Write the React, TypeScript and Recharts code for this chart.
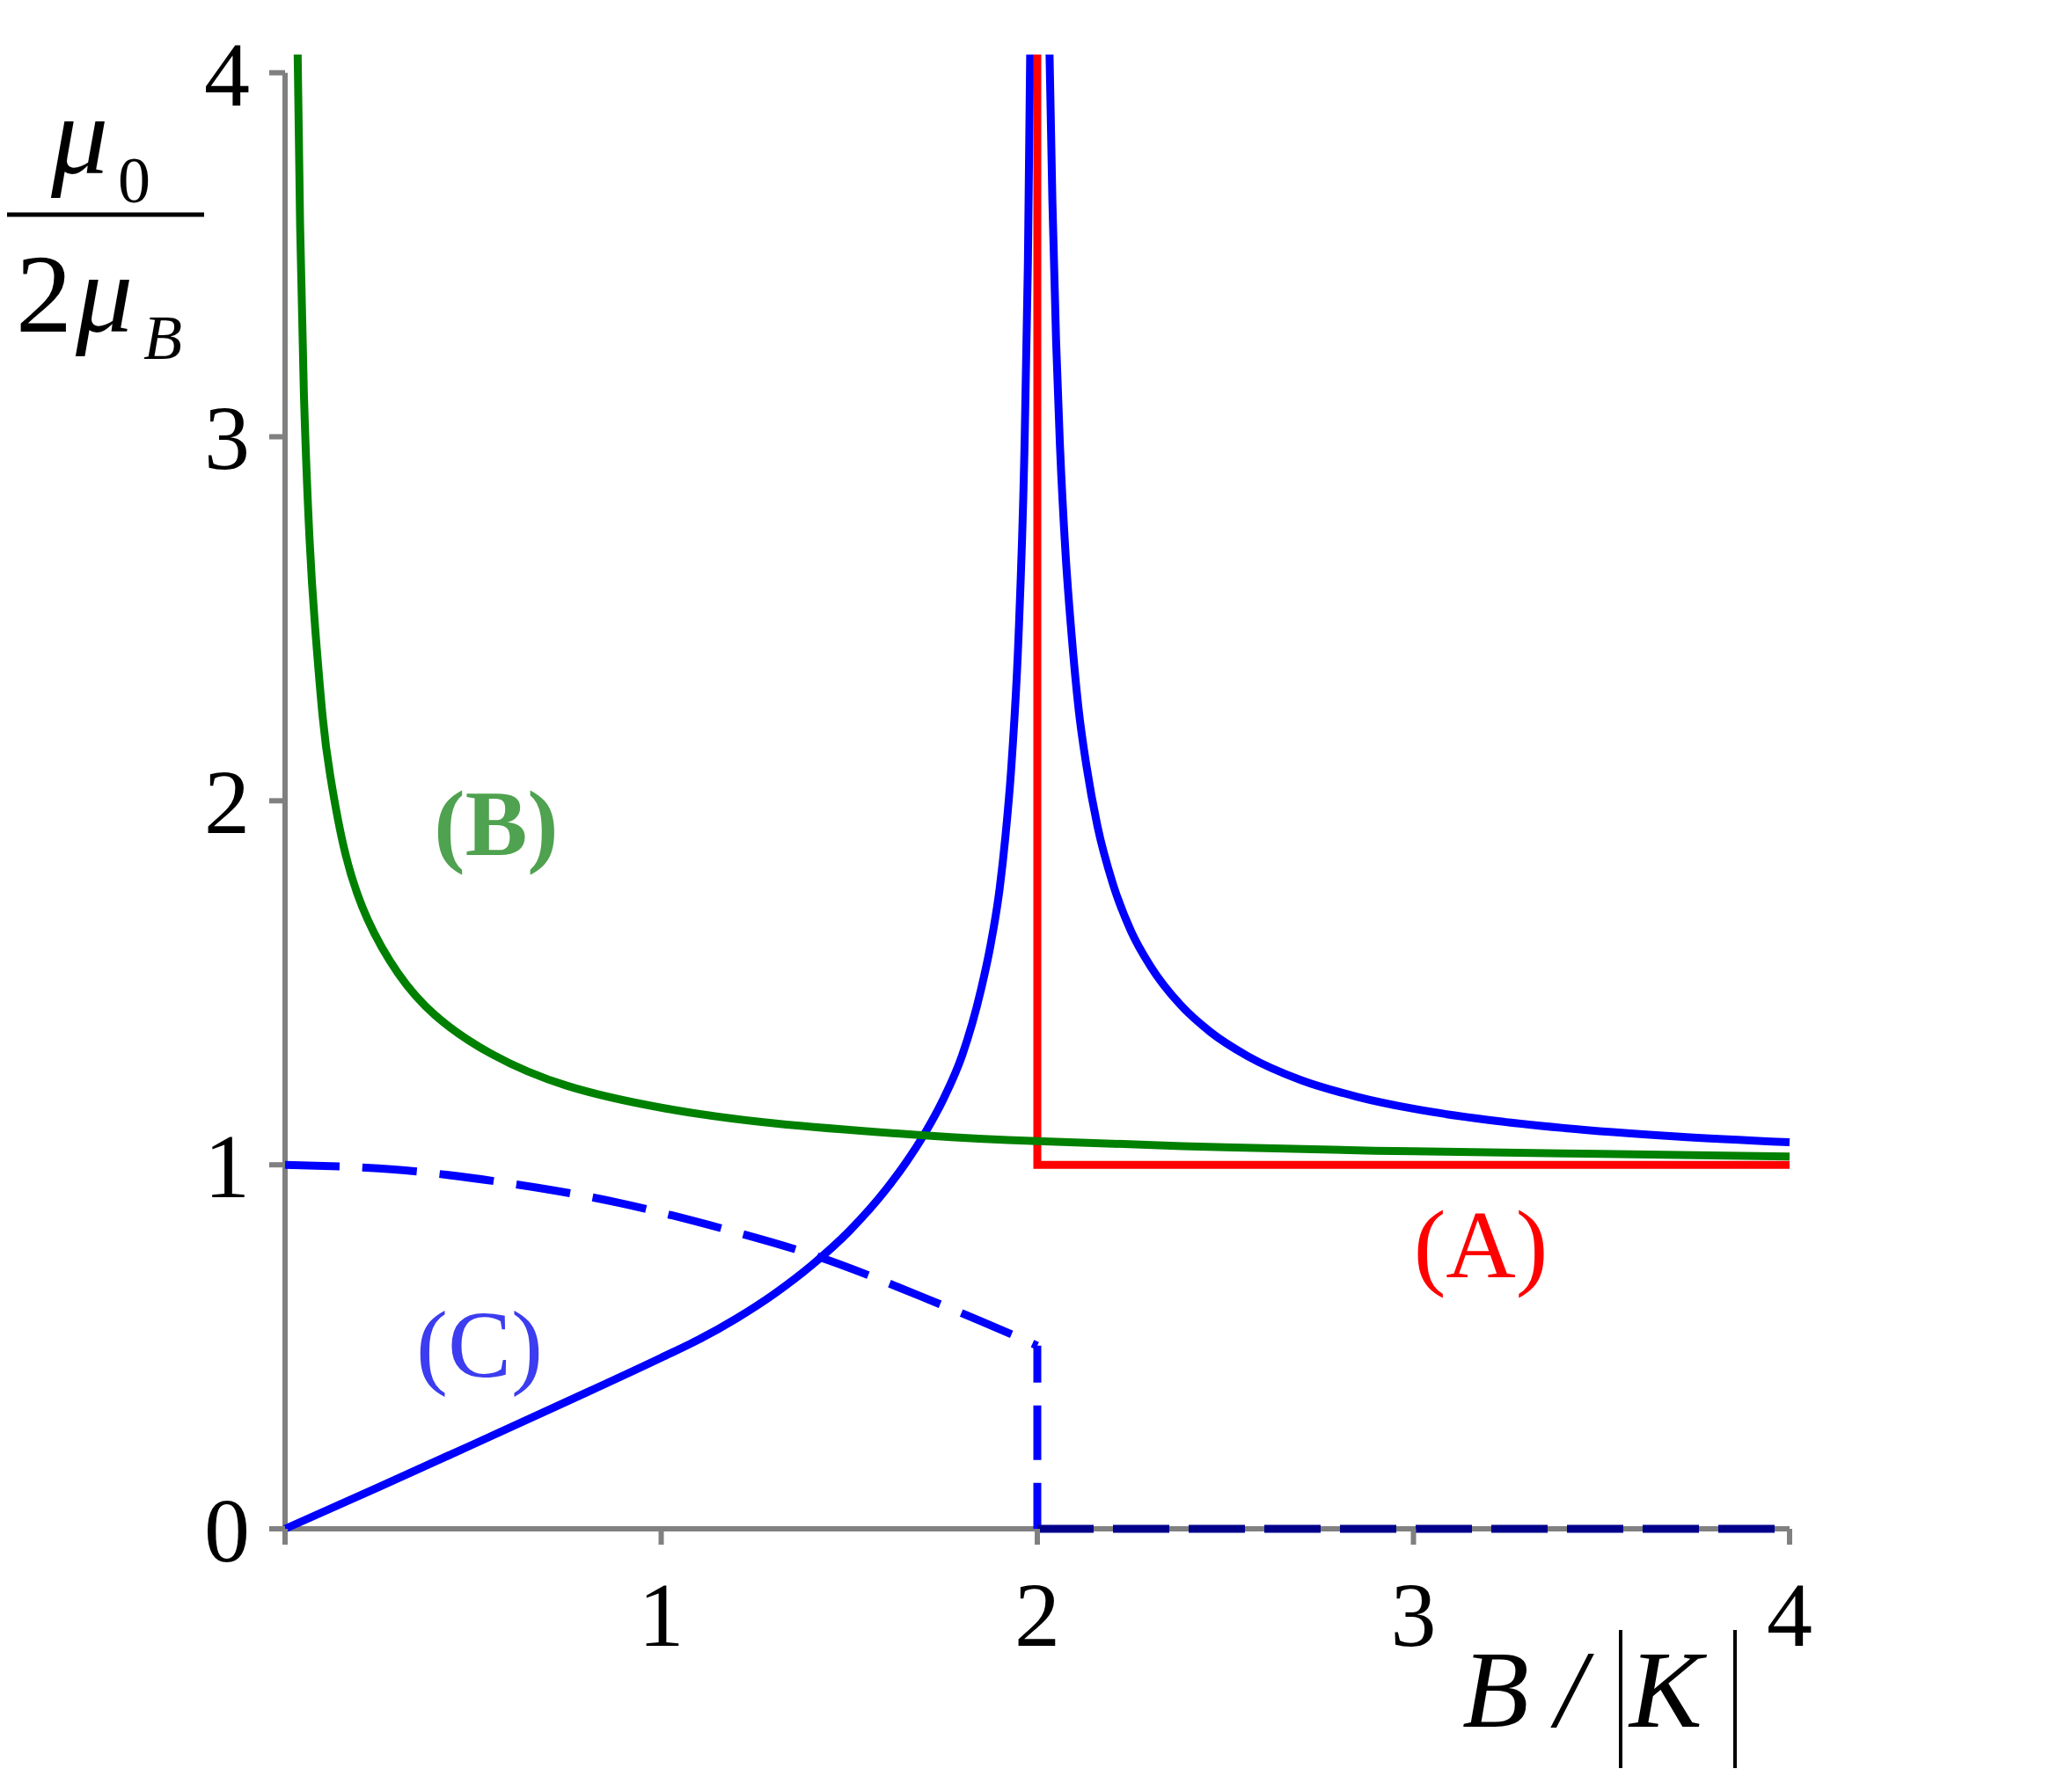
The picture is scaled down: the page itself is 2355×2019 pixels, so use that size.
import React from 'react';
import {
  ComposedChart,
  Line,
  XAxis,
  YAxis,
  ReferenceLine,
} from 'recharts';

document.body.style.margin = '0';

type Pt = { x: number; y: number | null };

// x ticks (B/|K|) and y ticks (mu0 / 2muB)
const xTicks = [0, 1, 2, 3, 4];
const yTicks = [0, 1, 2, 3, 4];

// (A) red: jump at B = 2|K|, then flat at 1
const curveA: Pt[] = [
  { x: 2, y: 4.05 },
  { x: 2, y: 1 },
  { x: 4, y: 1 },
];

// (B) green: diverges at 0, decays towards 1
const curveB: Pt[] = [
  { x: 0.0335, y: 4.05 },
  { x: 0.04, y: 3.58 },
  { x: 0.05, y: 3.12 },
  { x: 0.065, y: 2.72 },
  { x: 0.08, y: 2.475 },
  { x: 0.1, y: 2.23 },
  { x: 0.12, y: 2.07 },
  { x: 0.16, y: 1.856 },
  { x: 0.22, y: 1.673 },
  { x: 0.3, y: 1.527 },
  { x: 0.4, y: 1.41 },
  { x: 0.55, y: 1.304 },
  { x: 0.75, y: 1.217 },
  { x: 1.0, y: 1.157 },
  { x: 1.3, y: 1.114 },
  { x: 1.7, y: 1.081 },
  { x: 2.0, y: 1.065 },
  { x: 2.5, y: 1.048 },
  { x: 3.0, y: 1.037 },
  { x: 3.5, y: 1.03 },
  { x: 4.0, y: 1.023 },
];

// (C) blue solid: two branches around the divergence at 2
const curveC: Pt[] = [
  { x: 0, y: 0 },
  { x: 0.25, y: 0.115 },
  { x: 0.5, y: 0.232 },
  { x: 0.75, y: 0.35 },
  { x: 1.0, y: 0.47 },
  { x: 1.1, y: 0.52 },
  { x: 1.2, y: 0.578 },
  { x: 1.3, y: 0.645 },
  { x: 1.4, y: 0.724 },
  { x: 1.5, y: 0.818 },
  { x: 1.6, y: 0.935 },
  { x: 1.65, y: 1.005 },
  { x: 1.7, y: 1.085 },
  { x: 1.75, y: 1.18 },
  { x: 1.8, y: 1.3 },
  { x: 1.85, y: 1.48 },
  { x: 1.875, y: 1.6 },
  { x: 1.9, y: 1.76 },
  { x: 1.915, y: 1.9 },
  { x: 1.93, y: 2.08 },
  { x: 1.95, y: 2.45 },
  { x: 1.965, y: 2.93 },
  { x: 1.975, y: 3.48 },
  { x: 1.981, y: 4.05 },
  { x: 2.0, y: null },
  { x: 2.0325, y: 4.05 },
  { x: 2.04, y: 3.65 },
  { x: 2.05, y: 3.26 },
  { x: 2.06, y: 2.98 },
  { x: 2.075, y: 2.68 },
  { x: 2.09, y: 2.47 },
  { x: 2.11, y: 2.25 },
  { x: 2.13, y: 2.1 },
  { x: 2.16, y: 1.93 },
  { x: 2.2, y: 1.775 },
  { x: 2.25, y: 1.64 },
  { x: 2.3, y: 1.547 },
  { x: 2.38, y: 1.44 },
  { x: 2.46, y: 1.365 },
  { x: 2.56, y: 1.298 },
  { x: 2.7, y: 1.233 },
  { x: 2.85, y: 1.187 },
  { x: 3.0, y: 1.154 },
  { x: 3.2, y: 1.123 },
  { x: 3.4, y: 1.101 },
  { x: 3.7, y: 1.078 },
  { x: 4.0, y: 1.062 },
];

// (C) blue dashed
const curveCDash: Pt[] = [
  { x: 0, y: 1.0 },
  { x: 0.29, y: 0.987 },
  { x: 0.59, y: 0.95 },
  { x: 0.89, y: 0.895 },
  { x: 1.18, y: 0.82 },
  { x: 1.41, y: 0.75 },
  { x: 1.63, y: 0.664 },
  { x: 1.855, y: 0.568 },
  { x: 2.0, y: 0.503 },
];
const curveCDrop: Pt[] = [
  { x: 2.0, y: 0.503 },
  { x: 2.0, y: 0 },
];
const curveCZero: Pt[] = [
  { x: 2.0, y: 0 },
  { x: 4.0, y: 0 },
];

const SERIF = '"Liberation Serif", "Times New Roman", serif';
const AXIS = '#808080';
const LW = 9;

function Overlay() {
  return (
    <svg
      width={2355}
      height={2019}
      style={{ position: 'absolute', left: 0, top: 0, pointerEvents: 'none' }}
      fontFamily={SERIF}
    >
      {/* y title: mu0 / 2 muB */}
      <text x={58} y={197} fontSize={130} fontStyle="italic">μ</text>
      <text x={134} y={230} fontSize={74}>0</text>
      <line x1={8} y1={244} x2={232} y2={244} stroke="#000" strokeWidth={5} />
      <text x={18} y={377} fontSize={128}>2</text>
      <text x={86} y={377} fontSize={130} fontStyle="italic">μ</text>
      <text x={163} y={408} fontSize={72} fontStyle="italic">B</text>

      {/* x title: B / |K| */}
      <text x={1662} y={1963} fontSize={124} fontStyle="italic">B</text>
      <text x={1768} y={1963} fontSize={124} fontStyle="italic">/</text>
      <line x1={1842} y1={1853} x2={1842} y2={2010} stroke="#000" strokeWidth={4} />
      <text x={1852} y={1963} fontSize={124} fontStyle="italic">K</text>
      <line x1={1972} y1={1853} x2={1972} y2={2010} stroke="#000" strokeWidth={4} />

      {/* curve labels */}
      <text x={564} y={972} fontSize={106} fontWeight="bold" fill="#4fa24f" textAnchor="middle">(B)</text>
      <text x={1683} y={1452} fontSize={110} fill="#ff0000" textAnchor="middle">(A)</text>
      <text x={545} y={1565} fontSize={108} fill="#3c3cf0" textAnchor="middle">(C)</text>
    </svg>
  );
}

export default function App() {
  return (
    <div style={{ position: 'relative', width: 2355, height: 2019, background: '#fff' }}>
      <ComposedChart
        width={2355}
        height={2019}
        margin={{ top: 62, right: 321, bottom: 0, left: 0 }}
      >
        <XAxis
          type="number"
          dataKey="x"
          domain={[0, 4]}
          ticks={xTicks}
          height={281}
          axisLine={false}
          tickLine={{ stroke: AXIS, strokeWidth: 6 }}
          tickSize={18}
          tickMargin={41}
          tick={{ fill: '#000', fontSize: 104, fontFamily: SERIF }}
          tickFormatter={(v: number) => (v === 0 ? '' : String(v))}
        />
        <YAxis
          type="number"
          dataKey="y"
          domain={[0, 4.05]}
          ticks={yTicks}
          width={324}
          axisLine={false}
          tickLine={{ stroke: AXIS, strokeWidth: 6 }}
          tickSize={18}
          tickMargin={22}
          tick={{ fill: '#000', fontSize: 104, fontFamily: SERIF }}
        />
        {/* axis lines drawn as segments so the series can sit on top */}
        <ReferenceLine
          segment={[{ x: 0, y: 0 }, { x: 0, y: 4 }]}
          stroke={AXIS}
          strokeWidth={6}
          ifOverflow="visible"
        />
        <ReferenceLine
          segment={[{ x: 0, y: 0 }, { x: 4, y: 0 }]}
          stroke={AXIS}
          strokeWidth={6}
          ifOverflow="visible"
        />

        <Line
          data={curveCDash}
          dataKey="y"
          type="natural"
          stroke="#0000ff"
          strokeWidth={LW}
          strokeDasharray="62 26"
          dot={false}
          isAnimationActive={false}
        />
        <Line
          data={curveCDrop}
          dataKey="y"
          type="linear"
          stroke="#0000ff"
          strokeWidth={LW}
          strokeDasharray="62 26"
          strokeDashoffset={20}
          dot={false}
          isAnimationActive={false}
        />
        <Line
          data={curveC}
          dataKey="y"
          type="monotone"
          stroke="#0000ff"
          strokeWidth={LW}
          dot={false}
          connectNulls={false}
          isAnimationActive={false}
        />
        <Line
          data={curveA}
          dataKey="y"
          type="linear"
          stroke="#ff0000"
          strokeWidth={LW}
          dot={false}
          isAnimationActive={false}
        />
        <Line
          data={curveB}
          dataKey="y"
          type="natural"
          stroke="#008000"
          strokeWidth={LW}
          dot={false}
          isAnimationActive={false}
        />
        <Line
          data={curveCZero}
          dataKey="y"
          type="linear"
          stroke="#00008b"
          strokeWidth={LW}
          strokeDasharray="64 22"
          dot={false}
          isAnimationActive={false}
        />
      </ComposedChart>
      <Overlay />
    </div>
  );
}
